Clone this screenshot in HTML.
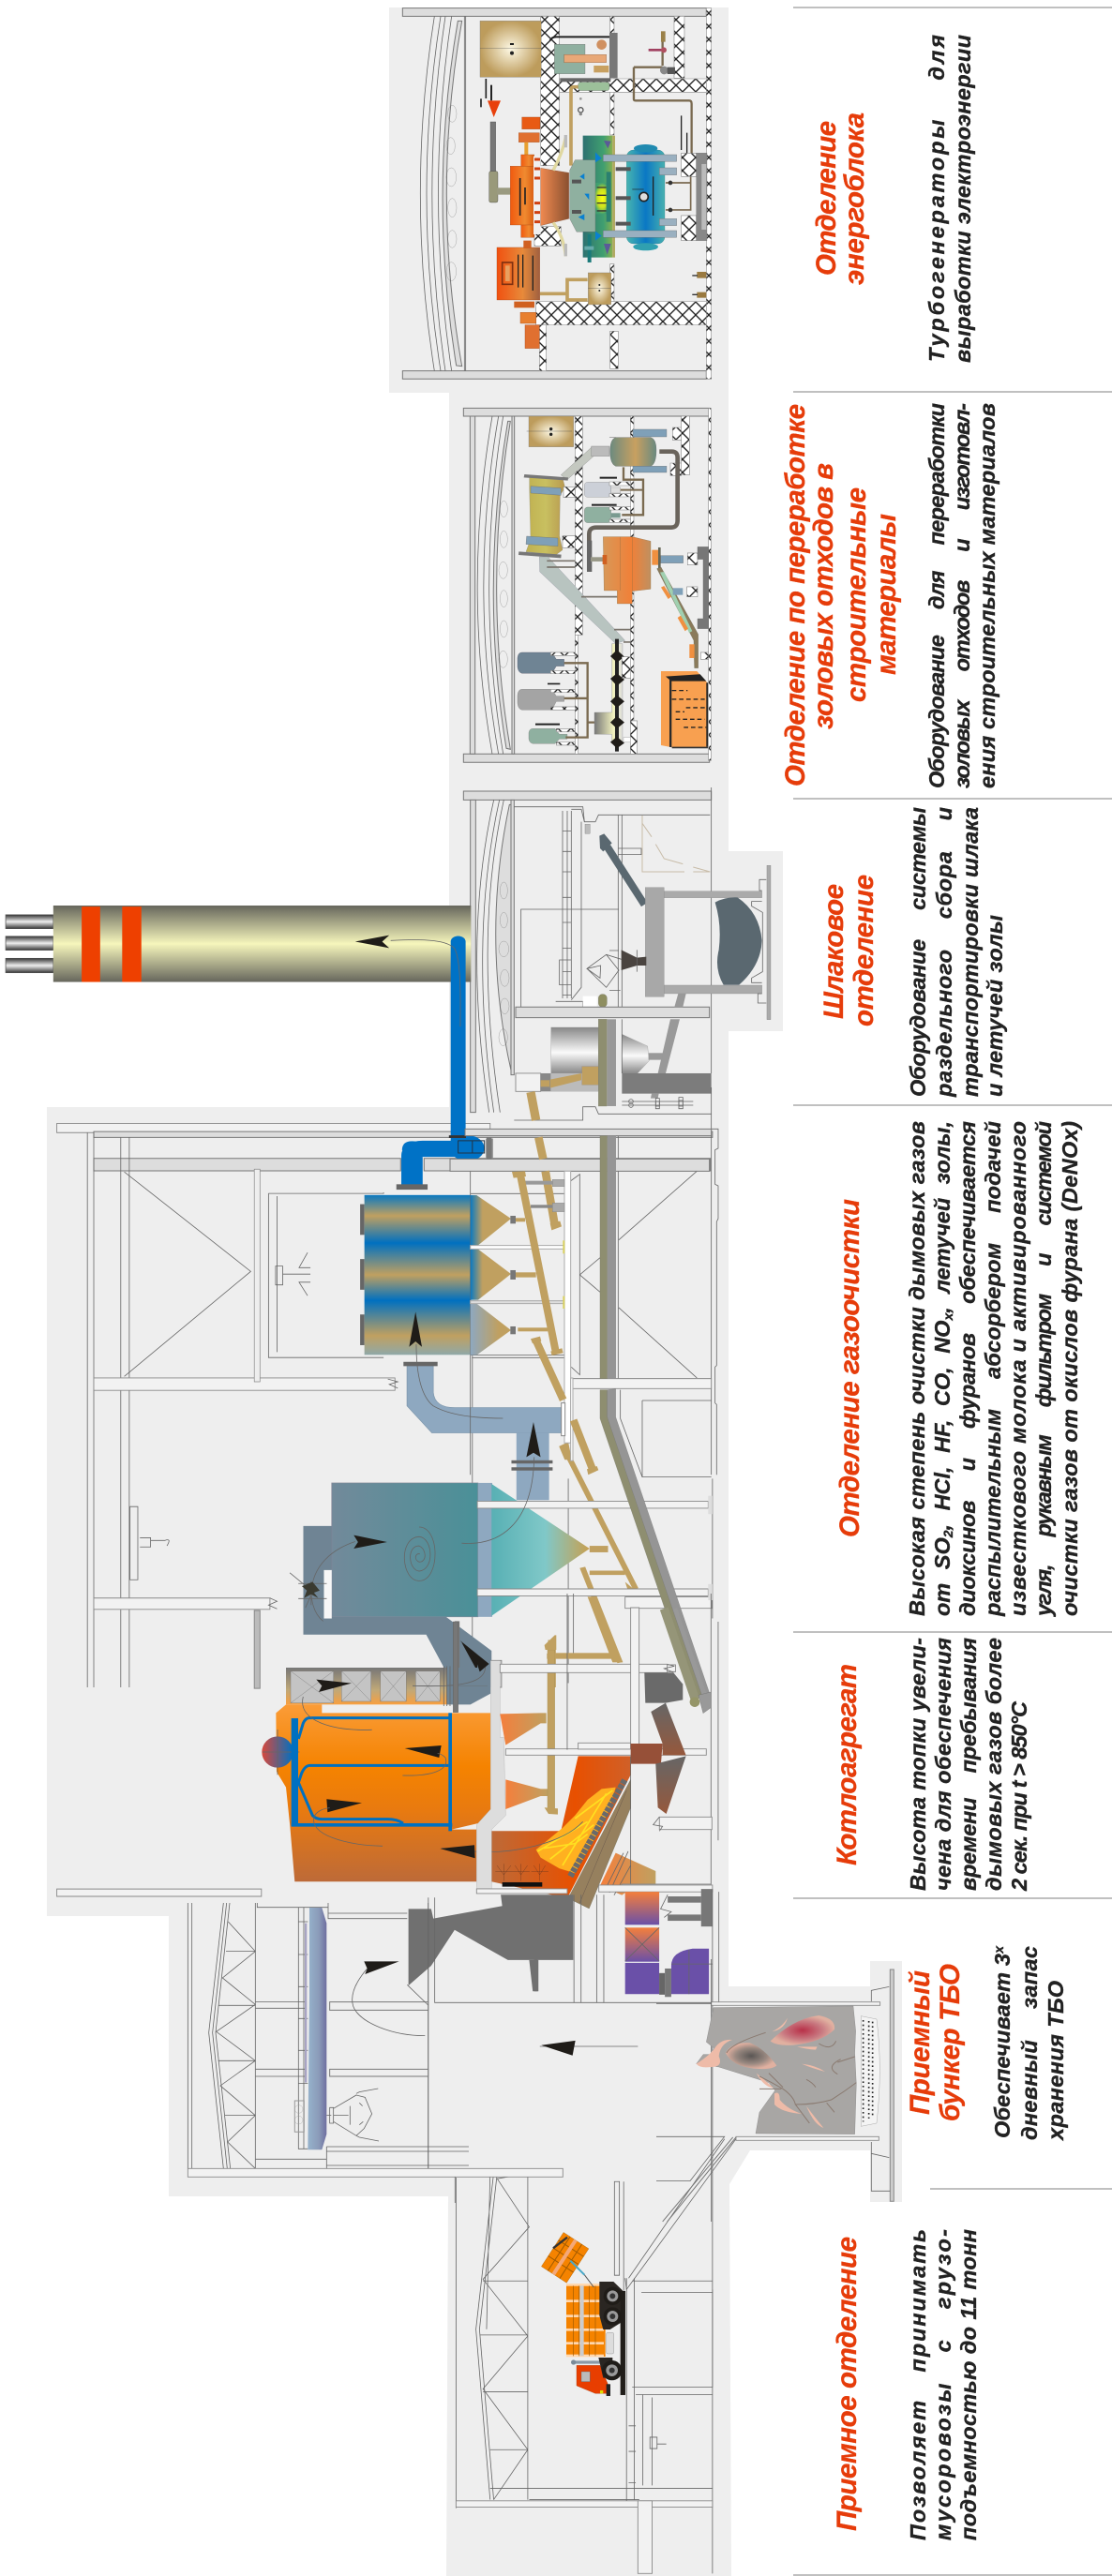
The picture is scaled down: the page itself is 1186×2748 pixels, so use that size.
<!DOCTYPE html>
<html lang="ru"><head><meta charset="utf-8"><title>Схема завода</title>
<style>
html,body{margin:0;padding:0;background:#fff;width:1186px;height:2748px;overflow:hidden}
svg{display:block;overflow:hidden}
.l{fill:none;stroke:#666;stroke-width:.8;vector-effect:non-scaling-stroke}
.r{fill:#eee;stroke:#777;stroke-width:1;vector-effect:non-scaling-stroke}
.rd{fill:#ddd;stroke:#777;stroke-width:1;vector-effect:non-scaling-stroke}
.w{fill:#f2f2f2;stroke:#888;stroke-width:.9;vector-effect:non-scaling-stroke}
.x{fill:url(#xh);stroke:#888;stroke-width:.6;vector-effect:non-scaling-stroke}
.h{fill:#e63c0a;stroke:#e63c0a;stroke-width:.3;font:italic bold 29.5px "Liberation Sans","Noto Sans CJK SC",sans-serif}
.b{fill:#222;stroke:#222;stroke-width:.35;font:italic bold 23.5px "Liberation Sans","Noto Sans CJK SC",sans-serif}
.blk{fill:#1f1c18}
</style></head><body>
<svg xmlns="http://www.w3.org/2000/svg" width="1186" height="2748" viewBox="0 0 1186 2748">
<defs>
<pattern id="xh" width="42" height="42" patternUnits="userSpaceOnUse"><rect width="42" height="42" fill="#fff"/><path d="M0 0L42 42M42 0L0 42" stroke="#222" stroke-width="4"/></pattern>
<linearGradient id="stack" x1="0" y1="0" x2="0" y2="1"><stop offset="0" stop-color="#66665c"/><stop offset=".5" stop-color="#f6f6bc"/><stop offset="1" stop-color="#66665c"/></linearGradient>
<linearGradient id="flue" x1="0" y1="0" x2="0" y2="1"><stop offset="0" stop-color="#333"/><stop offset=".5" stop-color="#eee"/><stop offset="1" stop-color="#333"/></linearGradient>
<linearGradient id="bag" x1="0" y1="0" x2="0" y2="1"><stop offset="0" stop-color="#0a78c0"/><stop offset=".13" stop-color="#c0a060"/><stop offset=".3" stop-color="#0070c0"/><stop offset=".5" stop-color="#c0a060"/><stop offset=".66" stop-color="#0070c0"/><stop offset=".88" stop-color="#c0a060"/><stop offset="1" stop-color="#8fa8a8"/></linearGradient>
<linearGradient id="hop" x1="0" y1="0" x2="1" y2="0"><stop offset="0" stop-color="#0a78c0"/><stop offset=".3" stop-color="#c0a060"/><stop offset="1" stop-color="#c0a060"/></linearGradient>
<linearGradient id="hop3" x1="0" y1="0" x2="1" y2="0"><stop offset="0" stop-color="#8ea8c0"/><stop offset=".7" stop-color="#c0a060"/><stop offset="1" stop-color="#c0a060"/></linearGradient>
<linearGradient id="react" x1="0" y1="0" x2="1" y2="0"><stop offset="0" stop-color="#728a9a"/><stop offset="1" stop-color="#4a9098"/></linearGradient>
<linearGradient id="cone" x1="0" y1="0" x2="1" y2="0"><stop offset="0" stop-color="#58b0b4"/><stop offset=".55" stop-color="#80c8c8"/><stop offset="1" stop-color="#c8a050"/></linearGradient>
<linearGradient id="boil" x1="0" y1="0" x2="0" y2="1"><stop offset="0" stop-color="#fa9c38"/><stop offset=".35" stop-color="#f58300"/><stop offset=".6" stop-color="#e87a10"/><stop offset="1" stop-color="#bd6a38"/></linearGradient>
<linearGradient id="conv" x1="0" y1="0" x2="0" y2="1"><stop offset="0" stop-color="#777"/><stop offset=".6" stop-color="#c0a878"/><stop offset="1" stop-color="#f8a040"/></linearGradient>
<linearGradient id="furn" x1="0" y1="0" x2="1" y2="0"><stop offset="0" stop-color="#bd6a38"/><stop offset=".6" stop-color="#e85000"/><stop offset="1" stop-color="#d06028"/></linearGradient>
<linearGradient id="drum" x1="0" y1="0" x2="1" y2="0"><stop offset="0" stop-color="#d8483c"/><stop offset="1" stop-color="#0070c0"/></linearGradient>
<linearGradient id="hop2" x1="0" y1="0" x2="1" y2="0"><stop offset="0" stop-color="#f47f3c"/><stop offset="1" stop-color="#c0a060"/></linearGradient>
<linearGradient id="pur" x1="0" y1="0" x2="0" y2="1"><stop offset="0" stop-color="#f47f3c"/><stop offset="1" stop-color="#6a50a8"/></linearGradient>
<linearGradient id="crane" x1="0" y1="0" x2="1" y2="0"><stop offset="0" stop-color="#96b2cc"/><stop offset=".6" stop-color="#8a9ab8"/><stop offset="1" stop-color="#6e6ea0"/></linearGradient>
<linearGradient id="chute" x1="0" y1="0" x2="0" y2="1"><stop offset="0" stop-color="#666"/><stop offset="1" stop-color="#96583c"/></linearGradient>
<linearGradient id="silo" x1="0" y1="0" x2="0" y2="1"><stop offset="0" stop-color="#888"/><stop offset=".55" stop-color="#fafafa"/><stop offset="1" stop-color="#888"/></linearGradient>
<radialGradient id="tank"><stop offset="0" stop-color="#fdf8e4"/><stop offset="1" stop-color="#bd9c5c"/></radialGradient>
<linearGradient id="cop" x1="0" y1="0" x2="1" y2="0"><stop offset="0" stop-color="#f08a50"/><stop offset="1" stop-color="#8a5030"/></linearGradient>
<linearGradient id="org" x1="0" y1="0" x2="1" y2="0"><stop offset="0" stop-color="#f05a10"/><stop offset=".6" stop-color="#f08a30"/><stop offset="1" stop-color="#d85a10"/></linearGradient>
<linearGradient id="org2" x1="0" y1="0" x2="1" y2="0"><stop offset="0" stop-color="#f05010"/><stop offset=".6" stop-color="#e88a3a"/><stop offset="1" stop-color="#a06040"/></linearGradient>
<linearGradient id="tealbg" x1="0" y1="0" x2="1" y2="0"><stop offset="0" stop-color="#2d7070"/><stop offset=".7" stop-color="#40a070"/><stop offset="1" stop-color="#88b050"/></linearGradient>
<radialGradient id="yel"><stop offset="0" stop-color="#ffff10"/><stop offset=".6" stop-color="#c8e020"/><stop offset="1" stop-color="#40a070"/></radialGradient>
<linearGradient id="btank" x1="0" y1="0" x2="1" y2="0"><stop offset="0" stop-color="#48b4b0"/><stop offset=".5" stop-color="#0a78c4"/><stop offset="1" stop-color="#48b0b0"/></linearGradient>
<linearGradient id="kiln" x1="0" y1="0" x2="1" y2="0"><stop offset="0" stop-color="#c0b050"/><stop offset=".5" stop-color="#c8c060"/><stop offset="1" stop-color="#b89850"/></linearGradient>
<linearGradient id="mill" x1="0" y1="0" x2="1" y2="0"><stop offset="0" stop-color="#d89858"/><stop offset=".6" stop-color="#f08038"/><stop offset="1" stop-color="#c09060"/></linearGradient>
<linearGradient id="ves" x1="0" y1="0" x2="1" y2="0"><stop offset="0" stop-color="#6a8a80"/><stop offset=".55" stop-color="#c8a060"/><stop offset="1" stop-color="#6a8a80"/></linearGradient>
<linearGradient id="screw" x1="0" y1="0" x2="1" y2="0"><stop offset="0" stop-color="#777"/><stop offset=".7" stop-color="#f4f4c0"/><stop offset="1" stop-color="#ddd"/></linearGradient>
<radialGradient id="gr"><stop offset="0" stop-color="#b83048"/><stop offset=".6" stop-color="#c87880"/><stop offset="1" stop-color="#e0b0a0"/></radialGradient>
<radialGradient id="gg"><stop offset="0" stop-color="#5a5654"/><stop offset=".6" stop-color="#988880"/><stop offset="1" stop-color="#e0b0a0"/></radialGradient>
</defs>

<rect width="1186" height="2748" fill="#fff"/>
<polygon fill="#eee" points="415,8 777,8 777,908 835,908 835,1100 777,1100 777,2119 928,2119 928,2092 962,2092 962,2349 928,2349 928,2294 800,2294 778,2330 780,2748 476,2748 478,2343 180,2343 180,2044 50,2044 50,1181 479,1181 479,419 415,419"/>

<!-- ENERGY BLOCK -->
<g transform="translate(420,0) scale(.3333)">
<rect class="rd" x="28" y="26" width="972" height="26"/><rect class="rd" x="28" y="1187" width="972" height="26"/>
<path class="l" d="M130 52Q40 620 130 1187M150 52Q60 620 150 1187M165 52Q80 620 165 1187M185 52Q100 620 185 1187"/>
<path class="rd" d="M205 67L218 67Q120 620 218 1172L200 1170Q110 620 205 67Z"/>
<path class="l" d="M226 52V1187M230 52V1187"/>
<g class="l"><ellipse cx="187" cy="364" rx="14" ry="27"/><ellipse cx="182" cy="467" rx="14" ry="27"/><ellipse cx="184" cy="567" rx="16" ry="30"/><ellipse cx="187" cy="665" rx="14" ry="30"/><ellipse cx="187" cy="765" rx="14" ry="28"/><ellipse cx="184" cy="869" rx="16" ry="30"/></g>
<rect class="x" x="470" y="52" width="60" height="478"/><rect class="x" x="450" y="725" width="85" height="62"/>
<rect class="x" x="692" y="52" width="13" height="380"/><rect class="x" x="692" y="845" width="13" height="120"/><rect class="x" x="692" y="1060" width="26" height="120"/>
<rect class="x" x="897" y="52" width="33" height="198"/><rect class="x" x="530" y="252" width="470" height="43"/><rect class="x" x="455" y="965" width="545" height="75"/>
<rect class="x" x="466" y="1040" width="22" height="147"/><rect class="x" x="1000" y="26" width="16" height="1187"/>
<rect x="276" y="67" width="196" height="180" fill="url(#tank)" stroke="#777"/><path d="M276 154H472" stroke="#555" fill="none"/><circle cx="378" cy="170" r="6" fill="#222"/><rect x="372" y="138" width="12" height="6" fill="#222"/>
<rect x="514" y="142" width="98" height="94" fill="#8fb0a0" stroke="#666"/><rect x="545" y="175" width="135" height="25" fill="#e8a878" stroke="#805030"/><rect x="640" y="210" width="48" height="22" fill="#c8a060"/><circle cx="665" cy="143" r="16" fill="#d09060"/>
<rect x="690" y="105" width="26" height="145" fill="#777"/><path d="M500 130Q505 118 520 118H690" stroke="#222" stroke-width="6" fill="none"/>
<rect x="532" y="250" width="162" height="12" fill="#666"/><rect x="590" y="263" width="100" height="27" rx="8" fill="#9cc09a" stroke="#666"/>
<path d="M590 278H575Q567 278 567 290V530" stroke="#c0a060" stroke-width="11" fill="none"/>
<circle cx="598" cy="352" r="8" fill="none" stroke="#555" stroke-width="4"/><circle cx="598" cy="365" r="5" fill="#888"/><circle cx="598" cy="316" r="4" fill="#999"/>
<path d="M860 210V125M768 215H860M768 215V318Q768 322 775 322H945Q953 322 953 332V490" stroke="#7a6a50" stroke-width="7" fill="none"/>
<path d="M815 160H862" stroke="#a04060" stroke-width="8"/><circle cx="864" cy="160" r="9" fill="#b05060"/><rect x="855" y="100" width="14" height="34" fill="#9a8048"/><circle cx="865" cy="225" r="13" fill="#888"/><rect x="875" y="215" width="25" height="22" fill="#555"/>
<path d="M920 370V480M938 425V490" stroke="#222" stroke-width="4"/>
<path d="M295 252V315" stroke="#222" stroke-width="5"/><path d="M312 272V322" stroke="#222" stroke-width="6"/><path d="M279 316V343" stroke="#222" stroke-width="5"/>
<polygon points="300,322 342,322 320,375" fill="#e8400c"/>
<rect x="309" y="390" width="17" height="160" fill="#777" stroke="#444"/><rect x="305" y="548" width="28" height="100" rx="6" fill="#99997a" stroke="#333"/><path d="M330 612H375" stroke="#9a9a80" stroke-width="22"/>
<rect x="410" y="375" width="58" height="38" fill="#e85a14" stroke="#984010"/><rect x="400" y="425" width="66" height="30" fill="#e07030" stroke="#984010"/><rect x="418" y="455" width="12" height="45" fill="#e8a030"/>
<rect x="407" y="495" width="42" height="265" fill="url(#org)" stroke="#a04010"/><rect x="373" y="532" width="78" height="188" fill="url(#org)" stroke="#a04010"/>
<path d="M404 570V690M420 600V655" stroke="#222" stroke-width="5"/>
<rect x="447" y="500" width="23" height="250" fill="#f0f0f0"/><path d="M450 510H468M450 540H468M450 570H468M450 650H468M450 680H468M450 710H468" stroke="#d04010" stroke-width="9"/>
<polygon points="470,538 510,545 560,553 560,700 510,712 470,722" fill="url(#cop)" stroke="#804020"/>
<path d="M510 545Q540 490 550 440M510 712Q545 760 550 820" stroke="#e0d8a0" stroke-width="10" fill="none"/>
<rect x="545" y="432" width="10" height="40" fill="#bbb"/><rect x="545" y="780" width="10" height="40" fill="#bbb"/>
<rect x="605" y="434" width="95" height="390" fill="url(#tealbg)"/><rect x="700" y="434" width="8" height="390" fill="#b0a860"/>
<rect x="640" y="585" width="55" height="100" fill="url(#yel)"/><path d="M650 600H680M650 625H680M650 650H680M650 675H680" stroke="#333" stroke-width="4"/><rect x="680" y="550" width="15" height="160" fill="#2a8070"/>
<polygon points="563,545 580,512 645,512 645,742 585,742 563,700" fill="#8fb0a0" stroke="#666"/>
<g fill="#555"><rect x="570" y="575" width="30" height="12"/><rect x="570" y="672" width="30" height="12"/></g>
<g fill="#0a80d0"><polygon points="610,620 625,620 625,640"/><polygon points="645,487 665,507 645,520"/><polygon points="645,740 665,755 645,770"/><polygon points="590,695 610,685 610,705"/><polygon points="595,565 610,555 610,575"/></g>
<g fill="#5a5a98"><polygon points="672,450 695,452 685,475"/><polygon points="672,780 695,780 683,815"/></g>
<rect x="620" y="750" width="12" height="90" fill="#1a7a7a"/><rect x="610" y="788" width="30" height="12" fill="#6aa"/>
<rect x="745" y="480" width="122" height="300" rx="22" fill="url(#btank)" stroke="#2a7a8a"/><ellipse cx="806" cy="475" rx="38" ry="13" fill="#208ab0"/><ellipse cx="806" cy="790" rx="40" ry="12" fill="#30a0b0"/>
<circle cx="800" cy="630" r="14" fill="#ddd" stroke="#222" stroke-width="5"/><path d="M830 565V690" stroke="#222" stroke-width="4"/><path d="M763 606H800" stroke="#222" stroke-width="2"/>
<rect x="670" y="495" width="235" height="22" fill="#9ab0c0" stroke="#666"/><rect x="670" y="738" width="235" height="22" fill="#9ab0c0" stroke="#666"/><rect x="850" y="537" width="55" height="23" fill="#9ab0c0" stroke="#666"/><rect x="850" y="700" width="55" height="22" fill="#9ab0c0" stroke="#666"/>
<g fill="#555"><rect x="710" y="535" width="48" height="12"/><rect x="710" y="628" width="48" height="12"/><rect x="710" y="710" width="48" height="12"/></g>
<path d="M870 585H950V490M870 672H950V580" stroke="#7a6a50" stroke-width="5" fill="none"/><circle cx="885" cy="585" r="7" fill="#333"/><circle cx="885" cy="672" r="7" fill="#333"/>
<rect x="920" y="490" width="48" height="75" class="x"/><rect x="920" y="690" width="48" height="80" class="x"/>
<rect x="968" y="490" width="34" height="280" fill="#888" stroke="#666"/><rect x="985" y="525" width="15" height="210" fill="#bbb"/>
<rect x="330" y="792" width="137" height="168" fill="url(#org2)" stroke="#a04010"/><rect x="347" y="840" width="33" height="70" fill="none" stroke="#803010" stroke-width="5"/><rect x="357" y="850" width="14" height="50" fill="#e8a060"/>
<path d="M398 815V920M413 815V920M445 818V930" stroke="#222" stroke-width="4"/>
<rect x="415" y="770" width="25" height="25" fill="#d06020"/>
<rect x="622" y="873" width="73" height="102" fill="url(#tank)" stroke="#777"/><path d="M622 922H695" stroke="#444"/><circle cx="658" cy="912" r="3" fill="#222"/><circle cx="658" cy="930" r="3" fill="#222"/>
<path d="M468 940H555V895H620M555 895V960H620" stroke="#c0a060" stroke-width="11" fill="none"/>
<rect x="405" y="1000" width="50" height="35" fill="#e88030" stroke="#a04010"/><rect x="385" y="965" width="65" height="20" fill="#d06020"/><rect x="420" y="1040" width="46" height="75" fill="#e07030" stroke="#a04010"/>
<g fill="#9a7a40"><rect x="970" y="870" width="30" height="20"/><rect x="970" y="935" width="30" height="18"/></g><path d="M955 882H972M955 943H972" stroke="#333" stroke-width="4"/>
</g>

<!-- ASH PROCESSING -->
<g transform="translate(490,420) scale(.3333,.3333)">
<rect class="rd" x="13" y="46" width="787" height="26"/><rect class="rd" x="13" y="1153" width="787" height="27"/>
<rect class="rd" x="34" y="72" width="16" height="1081"/>
<path class="l" d="M105 72Q10 620 105 1153M125 72Q30 620 125 1153M140 72Q50 620 140 1153"/>
<path class="rd" d="M155 88L163 88Q75 620 163 1138L150 1135Q65 620 155 88Z"/>
<rect class="rd" x="168" y="72" width="8" height="1081"/>
<g class="l"><ellipse cx="142" cy="369" rx="12" ry="26"/><ellipse cx="142" cy="466" rx="12" ry="27"/><ellipse cx="140" cy="565" rx="14" ry="27"/><ellipse cx="142" cy="656" rx="12" ry="27"/><ellipse cx="142" cy="753" rx="12" ry="27"/><ellipse cx="140" cy="850" rx="14" ry="27"/></g>
<rect class="x" x="370" y="72" width="24" height="700"/><rect class="x" x="370" y="772" width="10" height="381"/><rect class="x" x="547" y="72" width="11" height="975"/><rect class="x" x="547" y="1047" width="22" height="106"/>
<rect class="x" x="710" y="72" width="26" height="188"/><rect class="x" x="797" y="46" width="8" height="1128"/>
<rect x="222" y="72" width="143" height="98" fill="url(#tank)" stroke="#777"/><path d="M215 120H360" stroke="#444"/><circle cx="293" cy="113" r="5" fill="#222"/><circle cx="293" cy="130" r="5" fill="#222"/>
<polygon points="325,260 422,172 435,195 345,275" fill="#c4c8c0" stroke="#777"/>
<rect x="422" y="168" width="58" height="32" fill="#bbb" stroke="#777"/>
<path d="M480 140H612Q630 145 630 180Q630 225 612 232H500Q482 225 482 185Q482 145 500 140Z" fill="url(#ves)" stroke="#666"/>
<rect x="555" y="114" width="108" height="24" fill="#7fa0b8" stroke="#666"/><rect x="555" y="232" width="108" height="20" fill="#7fa0b8" stroke="#666"/>
<rect class="x" x="682" y="108" width="28" height="40"/><rect class="x" x="675" y="222" width="35" height="40"/>
<path d="M640 185H680Q698 185 698 205V405Q698 428 678 428H438Q415 428 415 450V565" stroke="#6a645c" stroke-width="14" fill="none"/>
<path d="M525 235V275H588V388H520" stroke="#7a6a50" stroke-width="7" fill="none"/>
<rect x="449" y="266" width="55" height="6" fill="#222"/><rect x="423" y="353" width="80" height="6" fill="#222"/>
<rect x="400" y="283" width="85" height="48" rx="10" fill="#ccd0d8" stroke="#888"/><rect x="485" y="300" width="30" height="18" fill="#ddd" stroke="#888"/><rect x="400" y="363" width="85" height="50" rx="10" fill="#8fb0a0" stroke="#777"/><rect x="485" y="382" width="30" height="15" fill="#7a9a90"/>
<path d="M515 308H585" stroke="#7a6a50" stroke-width="6"/>
<g><rect class="x" x="480" y="282" width="68" height="12"/><rect class="x" x="480" y="320" width="68" height="10"/><rect class="x" x="480" y="362" width="68" height="10"/><rect class="x" x="480" y="402" width="68" height="10"/></g>
<polygon points="224,268 330,270 338,300 322,325 320,455 330,500 310,515 213,506 228,465 224,300" fill="url(#kiln)" stroke="#887" />
<polygon points="208,258 348,268 347,278 206,268" fill="#777"/><polygon points="190,505 326,515 325,526 189,516" fill="#777"/>
<polygon points="228,296 325,302 325,325 228,318" fill="#7fa0b8" stroke="#666"/><polygon points="215,456 315,462 315,488 213,482" fill="#7fa0b8" stroke="#666"/>
<rect class="x" x="333" y="298" width="37" height="34"/><rect class="x" x="330" y="455" width="40" height="38"/>
<polygon points="256,522 283,522 530,790 500,800 257,570" fill="#b8c4c0" stroke="#889"/>
<path d="M280 535H370M280 555H370M390 650H505M495 755H547M525 795H547" stroke="#7a746c" stroke-width="5" fill="none"/>
<path d="M460 458H553L612 472 612 625 553 632 553 672 505 672 505 630 463 630Z" fill="url(#mill)" stroke="#8a6a40"/>
<path d="M515 458V630M553 458V632" stroke="#8a6a40" fill="none"/>
<rect x="408" y="470" width="16" height="100" fill="#666"/><path d="M420 530H460" stroke="#998" stroke-width="14"/><rect x="458" y="516" width="14" height="30" fill="#d06020"/>
<rect x="616" y="500" width="20" height="48" fill="#f09040"/><rect x="636" y="492" width="8" height="68" fill="#665"/><rect x="644" y="518" width="72" height="24" fill="#7fa0b8" stroke="#666"/><rect class="x" x="730" y="510" width="32" height="38"/>
<polygon points="632,560 645,555 764,770 764,878 752,878 750,790" fill="#8a7a5a" stroke="#665"/><polygon points="642,572 655,570 745,760 735,765" fill="#a0d0b0"/>
<polygon points="645,620 655,615 678,650 668,657" fill="#f09040"/><polygon points="698,717 708,710 732,752 722,760" fill="#f09040"/><rect x="736" y="802" width="16" height="44" fill="#f09040"/>
<rect x="683" y="622" width="32" height="22" fill="#7fa0b8"/><rect class="x" x="728" y="618" width="34" height="32"/><rect class="x" x="772" y="828" width="25" height="22"/>
<path d="M762 490H797V752H762V720H780V530H762Z" fill="#777" stroke="#666"/>
<path d="M186 845Q188 828 200 828H296L310 850H335V872H310L296 895H200Q188 892 186 875Z" fill="#6f8494" stroke="#556"/>
<path d="M186 965Q188 946 200 946H296L310 968H335V985H310L296 1012H200Q188 1010 186 990Z" fill="#a4a4a4" stroke="#777"/>
<path d="M222 1085Q224 1072 235 1072H306L320 1090H345V1105H320L306 1120H235Q224 1118 222 1105Z" fill="#8fb0a0" stroke="#777"/>
<rect x="282" y="926" width="40" height="5" fill="#222"/><rect x="243" y="1055" width="78" height="6" fill="#222"/>
<g><rect class="x" x="292" y="828" width="78" height="10"/><rect class="x" x="292" y="886" width="78" height="10"/><rect class="x" x="292" y="946" width="78" height="10"/><rect class="x" x="292" y="1002" width="78" height="10"/><rect class="x" x="310" y="1072" width="60" height="10"/><rect class="x" x="310" y="1115" width="60" height="10"/></g>
<path d="M335 862H410V1100H340M335 975H410M410 1052H432" stroke="#7a6a50" stroke-width="7" fill="none"/>
<path d="M432 1020H488V800H522V1120H488V1090H432Z" fill="url(#screw)" stroke="#888"/>
<path d="M504 785V1145" stroke="#222" stroke-width="12"/>
<g class="blk"><polygon points="483,840 504,820 528,842 504,860"/><polygon points="483,912 504,895 528,915 504,935"/><polygon points="483,985 504,965 528,985 504,1005"/><polygon points="483,1052 504,1032 528,1052 504,1072"/><polygon points="483,1115 504,1098 528,1118 504,1135"/></g>
<rect class="x" x="520" y="842" width="28" height="68"/><rect x="525" y="1100" width="22" height="15" fill="#fff" stroke="#888"/>
<polygon points="645,888 760,888 793,925 793,1132 680,1132 645,1125" fill="#f8a050"/>
<polygon points="660,905 770,898 790,920 678,920" fill="#222"/><rect x="672" y="915" width="7" height="216" fill="#2a2a2a"/><rect x="790" y="925" width="5" height="205" fill="#222"/><rect x="680" y="1130" width="115" height="5" fill="#333"/>
<path d="M680 950H730M680 978H785M725 1005H785M692 1018H720M692 1042H785M718 1068H790" stroke="#222" stroke-width="4" stroke-dasharray="14 9" fill="none"/>
</g>

<!-- SLAG SECTION -->
<g transform="translate(480,840) scale(.3333)">
<rect class="rd" x="43" y="12" width="793" height="28"/>
<rect class="rd" x="65" y="40" width="17" height="1000"/><rect class="rd" x="195" y="40" width="10" height="880"/>
<path class="l" d="M140 40Q40 480 125 1040M158 40Q60 480 140 1040M172 40Q75 480 160 1040"/>
<path class="rd" d="M190 55Q100 480 195 905V55Z"/>
<g class="l"><ellipse cx="172" cy="330" rx="12" ry="27"/><ellipse cx="172" cy="425" rx="12" ry="25"/><ellipse cx="172" cy="517" rx="16" ry="25"/><ellipse cx="175" cy="610" rx="14" ry="27"/><ellipse cx="175" cy="700" rx="14" ry="25"/><ellipse cx="170" cy="800" rx="14" ry="27"/></g>
<path class="l" d="M205 62H425L430 110H465L475 88H832M836 0V915M360 75V675M375 75V675M388 75V675M360 140H388M360 205H388M360 270H388M360 352H388M360 432H388M360 515H388M360 590H388M360 665H388M538 88V703M550 88V703M538 195H612V215H538M227 703V390H540M350 552H388V632H350Z"/>
<path class="l" d="M388 70H420L430 110M420 110V640L388 680M338 685H425V703"/>
<path d="M615 90V270H745M615 115L645 158M658 182L685 228 745 245M700 270H750M778 255L832 270M778 270H832" stroke="#c8bca8" stroke-width="1" fill="none" vector-effect="non-scaling-stroke"/>
<path d="M503 190L622 375" stroke="#5a6870" stroke-width="24"/>
<polygon points="478,155 493,148 518,178 490,205 480,195" fill="#5a6870"/>
<rect x="432" y="118" width="16" height="30" fill="#bbb" stroke="#777"/>
<rect x="625" y="320" width="60" height="350" fill="#a8a8a8" stroke="#888"/>
<rect x="685" y="332" width="313" height="21" fill="#aaa" stroke="#888"/><rect x="685" y="633" width="313" height="27" fill="#aaa" stroke="#888"/>
<path d="M848 368Q880 350 920 352Q990 400 998 490Q995 570 925 632H875Q845 580 860 520Q870 440 848 368Z" fill="#5a6870"/>
<rect x="1014" y="250" width="12" height="493" fill="#aaa" stroke="#777"/>
<path class="l" d="M1012 295H990V330H998M998 365H965V380L1000 400V590L965 610V625H998M998 660H985V690H1012"/>
<polygon points="548,520 598,545 628,542 628,570 598,570 548,585" fill="#4a4440"/><path class="l" d="M598 520V590"/>
<path class="l" d="M548 550L500 535 438 580 500 640 540 585 500 535M438 580L480 610 482 570ZM510 522H540M510 650H545"/>
<rect x="425" y="668" width="45" height="35" fill="#fff"/><rect x="475" y="662" width="27" height="41" rx="12" fill="#8e8e60" stroke="#665"/>
<rect class="rd" x="210" y="703" width="620" height="34"/>
<polygon points="730,660 755,660 745,703 718,703" fill="#999"/><polygon points="705,742 735,742 690,915 665,915" fill="#999"/>
<rect x="323" y="768" width="152" height="147" fill="url(#silo)" stroke="#999"/>
<polygon points="550,790 632,828 637,875 600,915 550,915" fill="url(#silo)" stroke="#999"/><rect x="635" y="850" width="45" height="22" fill="#999"/>
<rect x="550" y="915" width="286" height="65" fill="#7c7c7c"/><polygon points="645,980 668,980 665,995 642,995" fill="#999"/>
<rect class="w" x="210" y="915" width="80" height="58"/><rect x="290" y="915" width="185" height="58" fill="#888"/><rect x="322" y="915" width="153" height="58" fill="#bbb"/>
<polygon points="320,935 420,915 420,937 320,962" fill="#c0a060"/><rect x="422" y="893" width="53" height="59" fill="#c0a060" stroke="#987"/><rect x="290" y="937" width="28" height="21" fill="#c0a060"/>
<rect x="475" y="742" width="27" height="278" fill="#8e8e70" stroke="#776"/><rect x="503" y="742" width="28" height="278" fill="#999"/><path class="l" d="M550 742V915"/>
<path class="l" d="M550 1005H778M572 1005a6 6 0 1 0 14 0a6 6 0 1 0 -14 0M658 995H670V1020H658ZM732 992H745V1020H732Z"/>
</g>

<!-- STACK + BLUE DUCT + BUILDING (z2 coords) -->
<g transform="translate(0,900) scale(.7576,.574)">
<rect class="w" x="80" y="520" width="610" height="17"/>
<rect class="rd" x="132" y="535" width="871" height="11"/>
<rect class="rd" x="132" y="585" width="432" height="23"/><rect class="rd" x="597" y="585" width="403" height="23"/>
<path class="l" d="M1003 1180V1440M123 537V1568M132 537V1568M170 546V1568M182 546V1568"/>
<rect class="w" x="132" y="993" width="424" height="23"/><path class="l" d="M546 995L560 1000 548 1005 560 1012"/>
<rect class="w" x="132" y="1402" width="248" height="21"/><path class="l" d="M380 1402L390 1408 378 1415 390 1422"/>
<rect class="w" x="880" y="1400" width="122" height="21"/>
<rect x="358" y="605" width="8" height="395" fill="#eee" stroke="#888" stroke-width=".7" vector-effect="non-scaling-stroke"/><rect x="358" y="1425" width="8" height="145" fill="#bbb" stroke="#888" vector-effect="non-scaling-stroke"/>
<path class="l" d="M175 610L353 795 175 990M378 650H540V648M378 650V955H540M390 655V945M665 950V1568M800 1180V1560"/>
<path class="l" d="M388 785H398V820H388ZM398 800H437M433 760L421 788 437 788M433 840L421 815 437 815"/>
<path class="l" d="M183 1232V1368H194V1232ZM197 1290H212V1307H197M212 1295H232Q242 1290 235 1305"/>
<!-- stack -->
<rect x="8" y="132" width="67" height="26" fill="url(#flue)" stroke="#555"/><rect x="8" y="172" width="67" height="26" fill="url(#flue)" stroke="#555"/><rect x="8" y="213" width="67" height="27" fill="url(#flue)" stroke="#555"/>
<rect x="75" y="115" width="588" height="142" fill="url(#stack)"/>
<rect x="115" y="117" width="26" height="140" fill="#ee4000"/><rect x="172" y="117" width="27" height="140" fill="#ee4000"/>
<!-- blue duct -->
<path d="M645 560V182" stroke="#0072c6" stroke-width="21" stroke-linecap="round"/>
<path d="M655 567H595Q580 567 580 580V640" stroke="#0072c6" stroke-width="30" fill="none"/><path d="M566 570Q566 553 580 553Q596 553 596 570Z" fill="#0072c6"/>
<circle cx="658" cy="566" r="24" fill="#0072c6"/><path d="M645 552H665V575H645ZM665 552H682V575H665Z" fill="none" stroke="#234" vector-effect="non-scaling-stroke"/><rect x="632" y="542" width="24" height="5" fill="#333"/><rect x="684" y="548" width="10" height="36" fill="#888"/>
<rect x="558" y="633" width="44" height="10" fill="#666"/>
<path class="l" d="M550 180C600 176 630 180 640 195 650 220 648 300 648 340"/>
<polygon class="blk" points="500,182 548,170 538,182 548,194"/>
<!-- bag filter -->
<rect x="507" y="670" width="6" height="57" fill="#666"/><rect x="507" y="772" width="6" height="57" fill="#666"/><rect x="507" y="875" width="6" height="57" fill="#666"/>
<rect x="513" y="653" width="150" height="297" fill="url(#bag)"/>
<polygon class="blk" points="585,870 594,935 585,925 576,935"/>
<!-- conveyors bottom part -->
<g stroke="#c0a060" stroke-width="8" fill="none"><path d="M795 1125L895 1385"/><path d="M820 1345L873 1522"/><path d="M830 1355H880"/><path d="M770 1510H870" stroke-width="10"/><path d="M777 1480V1568" stroke-width="11"/></g>
<g fill="#c0a060"><polygon points="787,1120 800,1112 805,1145 795,1145"/><polygon points="880,1372 898,1392 885,1392"/></g>
<!-- gas duct -->
<path d="M573 968H610V1020Q612 1048 640 1048H795V1095H608L573 1045Z" fill="#8ea8c0" stroke="#7f98ad"/>
<path class="l" d="M586 930Q586 1020 610 1045 640 1068 708 1068"/>
<rect x="568" y="963" width="48" height="8" fill="#666"/>
<rect x="727" y="1095" width="46" height="125" fill="#8ea8c0"/>
<rect x="720" y="1146" width="58" height="6" fill="#666"/><rect x="720" y="1159" width="58" height="6" fill="#666"/>
<polygon class="blk" points="751,1075 761,1140 751,1132 741,1140"/>
<rect x="467" y="1188" width="206" height="249" fill="url(#react)" stroke="#889"/>
<rect x="673" y="1188" width="20" height="249" fill="#8ea8c0"/>
<polygon points="692,1190 830,1310 692,1435" fill="url(#cone)"/>
<rect x="830" y="1305" width="26" height="12" fill="#c0a060"/>
<rect class="w" x="672" y="1222" width="325" height="13"/><rect class="w" x="672" y="1385" width="325" height="13"/>
<rect x="997" y="1212" width="6" height="34" fill="#ddd"/><rect x="997" y="1376" width="6" height="30" fill="#ddd"/>
<path class="l" d="M590 1270C620 1270 620 1370 590 1370 565 1370 560 1290 590 1288 610 1290 612 1350 590 1352 575 1350 572 1305 590 1305 600 1310 602 1335 590 1335 582 1330 585 1318 591 1320"/>
<path class="l" d="M650 1300C700 1305 750 1270 752 1140"/>
<path d="M427 1268H467V1437H427ZM427 1437H628L692 1500V1568H640L600 1470H427Z" fill="#6f8494"/>
<rect x="456" y="1350" width="11" height="90" fill="#f7f7f7"/>
<path class="l" d="M408 1355L440 1390 430 1420M420 1375H460M420 1403H460M438 1370V1415M455 1445C430 1420 425 1330 500 1297"/>
<polygon points="440,1372 450,1388 442,1392 448,1402 438,1395 428,1402 432,1388 425,1380" fill="#3a3a30"/>
<polygon class="blk" points="545,1298 498,1285 504,1298 498,1310"/>
<rect x="640" y="1445" width="7" height="123" fill="#777"/>
<rect x="692" y="1518" width="14" height="50" fill="#ddd" stroke="#888" vector-effect="non-scaling-stroke"/>
<rect class="w" x="706" y="1526" width="245" height="13"/>
<polygon class="blk" points="650,1485 688,1525 672,1518 672,1538"/>
</g>

<!-- GAS CLEANING DETAIL -->
<g transform="translate(480,1160) scale(.3333)">
<path class="l" d="M836 0V1240M836 133H858V195L848 200V310L858 315V420L853 430V890L848 895V1010L853 1015V1240M538 155V932M540 488L790 268M540 705L790 930M415 600L480 545M415 600L480 655M385 300L415 278V920L388 895M65 268V1240M545 968V1060L615 1247M615 1002H836M615 1002V1247H836M65 340H370M70 865H365M65 857H365"/>
<path class="l" d="M205 105H425V62H465L475 85H836M550 57H778M572 57a6 6 0 1 0 14 0a6 6 0 1 0 -14 0M658 45H670V68H658ZM732 42H745V68H732Z"/>
<path d="M258 15L275 105" stroke="#c0a060" stroke-width="28"/>
<rect class="rd" x="48" y="133" width="788" height="22"/>
<rect class="rd" x="0" y="229" width="830" height="39"/>
<rect class="w" x="393" y="932" width="443" height="32"/>
<rect x="366" y="268" width="20" height="870" fill="#fff" stroke="#aaa" vector-effect="non-scaling-stroke"/>
<rect x="386" y="930" width="7" height="265" fill="#fff" stroke="#aaa" vector-effect="non-scaling-stroke"/>
<rect x="480" y="155" width="23" height="777" fill="#8e8e70" stroke="#776"/><rect x="503" y="155" width="28" height="777" fill="#959595"/>
<polygon points="480,968 503,968 503,1055 807,1950 783,1950 480,1060" fill="#8e8e70" stroke="#776"/>
<polygon points="503,968 530,965 530,1055 834,1950 807,1950 503,1055" fill="#959595" stroke="#777"/>
<path d="M283 160L298 229M305 268L335 440" stroke="#c0a060" stroke-width="26" fill="none"/>
<polygon points="320,435 352,428 357,445 325,457" fill="#c0a060"/>
<rect x="240" y="299" width="90" height="12" fill="#999"/><rect x="258" y="376" width="72" height="10" fill="#888"/>
<rect x="328" y="295" width="38" height="22" fill="#aaa" stroke="#777"/><rect x="328" y="370" width="38" height="28" fill="#aaa" stroke="#777"/>
<polygon points="65,345 85,345 195,420 90,505 65,505" fill="url(#hop)"/>
<polygon points="65,518 90,518 195,597 90,680 65,680" fill="url(#hop)"/>
<polygon points="65,692 85,692 195,777 85,857 65,857" fill="url(#hop3)"/>
<rect x="193" y="411" width="17" height="25" fill="#777"/><rect x="193" y="585" width="17" height="30" fill="#777"/><rect x="193" y="765" width="17" height="25" fill="#777"/>
<rect x="210" y="418" width="30" height="12" fill="#c0a060"/><rect x="210" y="592" width="65" height="16" fill="#c0a060"/><rect x="217" y="769" width="96" height="12" fill="#c0a060"/>
<rect x="65" y="506" width="300" height="11" fill="#fff" stroke="#aaa" vector-effect="non-scaling-stroke"/><rect x="65" y="683" width="300" height="9" fill="#ddd" stroke="#aaa" vector-effect="non-scaling-stroke"/>
<rect x="361" y="490" width="6" height="42" fill="#d8d060"/><rect x="361" y="668" width="6" height="40" fill="#d8d060"/>
<path d="M226 285L338 845" stroke="#c0a060" stroke-width="24"/>
<polygon points="198,270 240,268 243,285 203,290" fill="#c0a060"/><polygon points="322,845 358,835 362,850 326,858" fill="#c0a060"/>
<path d="M275 810L362 1000M395 1065L455 1220" stroke="#c0a060" stroke-width="24"/>
<polygon points="258,805 288,797 292,812 264,820" fill="#c0a060"/><polygon points="438,1222 470,1212 475,1225 442,1240" fill="#c0a060"/>
<rect x="356" y="1010" width="12" height="105" fill="#fff" stroke="#888" vector-effect="non-scaling-stroke"/>
<rect x="117" y="160" width="16" height="70" fill="#777"/>
</g>

<!-- BOILER -->
<g transform="translate(280,1700) scale(.3333)">
<rect x="75" y="237" width="525" height="118" fill="url(#conv)"/>
<polygon points="590,237 730,237 730,320 665,355 590,355" fill="#6f8494"/>
<g fill="#c4c4c4" stroke="#666"><rect x="90" y="248" width="137" height="102"/><rect x="253" y="248" width="94" height="97"/><rect x="377" y="248" width="83" height="97"/><rect x="490" y="248" width="78" height="97"/></g>
<path d="M90 248L227 350M227 248L90 350M253 248L347 345M347 248L253 345M377 248L460 345M460 248L377 345M490 248L568 345M568 248L490 345M490 295H720" stroke="#666" fill="none"/>
<path class="l" d="M580 232V360M590 232V360M600 232V360M480 295C620 300 720 290 712 230"/>
<polygon points="43,382 75,355 190,355 190,382 730,382 730,705 690,735 605,755 685,755 685,922 103,922 88,745 75,620 45,570" fill="url(#boil)"/>
<rect x="610" y="90" width="16" height="290" fill="#777" stroke="#555"/>
<polygon class="blk" points="172,275 285,287 180,315 190,295"/>
<polygon class="blk" points="632,150 725,225 695,250 680,205"/>
<circle cx="48" cy="507" r="50" fill="url(#drum)"/><path class="l" d="M0 507H118M48 435V580"/>
<g fill="none" stroke="#0070c0" stroke-width="9"><path d="M600 398H150Q138 398 130 415L115 465"/><path d="M595 550H150Q135 552 125 575L115 605 160 710Q170 722 190 722H400Q430 722 450 735"/></g>
<g fill="#0070c0"><rect x="92" y="399" width="22" height="345"/><rect x="92" y="735" width="515" height="11"/><rect x="595" y="382" width="11" height="378"/></g>
<polygon class="blk" points="455,495 572,486 565,525"/><polygon class="blk" points="205,658 318,670 208,700"/>
<path class="l" d="M350 436C230 440 110 410 130 330M448 582C540 585 600 565 585 525 575 515 565 512 560 512M384 808C260 805 150 770 165 715 170 700 190 688 215 686"/>
<!-- furnace -->
<polygon points="733,760 955,760 1010,520 1178,520 1178,580 975,975 733,922" fill="url(#furn)"/>
<polygon points="875,820 960,750 1000,710 1040,660 1085,625 1130,620 1110,690 1060,790 1000,895 950,880 890,845" fill="#ffb020"/>
<path d="M880 825L1040 730M920 850L1060 740M960 870L1100 640M1000 720L1120 630M900 815L1000 800 1040 770" stroke="#ffe020" stroke-width="5" fill="none"/>
<path d="M985 905L1160 595" stroke="#6a6a6a" stroke-width="20" stroke-dasharray="14 3"/>
<polygon points="1178,595 1178,685 1045,1008 978,975" fill="#96805e" stroke="#665"/>
<path d="M1165 630L1015 990" stroke="#544" fill="none"/>
<path class="l" d="M573 815L680 825C800 835 960 800 1025 730"/>
<polygon class="blk" points="568,816 678,805 680,847"/>
<g stroke="#5a3020" fill="none"><path d="M772 920V865M745 890H800M772 900L750 870M772 900L795 870M827 920V865M800 890H855M827 900L808 870M827 900L848 870M887 920V865M860 890H915M887 900L868 870M887 900L905 870"/></g>
<rect x="767" y="924" width="128" height="14" fill="#111"/>
<polygon points="730,215 760,215 760,460 772,460 778,710 733,755 733,945 685,945 685,740 730,690" fill="#ddd" stroke="#aaa"/>
<rect class="w" x="685" y="945" width="290" height="15"/>
<polygon points="760,385 890,382 908,382 908,415 890,415 778,485" fill="url(#hop2)"/>
<polygon points="778,595 890,625 912,625 912,648 890,648 778,690" fill="url(#hop2)"/>
<rect x="912" y="180" width="23" height="510" fill="#c0a060" stroke="#a08848"/>
<polygon points="902,165 935,133 940,133 940,180 905,180" fill="#c0a060"/><polygon points="902,685 945,688 945,707 915,705" fill="#c0a060"/>
<rect x="935" y="190" width="178" height="18" fill="#c0a060"/>
<polygon points="1040,10 1060,10 1153,220 1120,220" fill="#c0a060"/>
<rect class="w" x="760" y="226" width="535" height="27"/><path class="l" d="M1295 226L1318 232 1285 240 1315 252"/>
<rect class="w" x="778" y="497" width="642" height="20"/><rect class="w" x="1010" y="478" width="168" height="20"/>
<rect class="w" x="1178" y="45" width="27" height="450"/>
<path class="l" d="M975 0V500M995 0V190M1435 0V930M1458 90V790"/>
<polygon points="1222,253 1315,253 1345,290 1345,340 1290,350 1225,350" fill="#6a6a6a"/>
<path d="M1285 48L1385 340" stroke="#959578" stroke-width="28"/><path d="M1320 48L1415 325" stroke="#999" stroke-width="14"/><circle cx="1383" cy="347" r="16" fill="#959568"/>
<polygon points="1395,325 1435,315 1435,365 1410,383" fill="#999" stroke="#666"/>
<polygon points="1178,480 1280,480 1275,545 1178,545" fill="#965038"/>
<polygon points="1243,378 1290,350 1355,517 1340,517 1280,517 1280,480" fill="url(#chute)"/>
<polygon points="1258,545 1355,520 1292,705 1265,685" fill="url(#chute)"/>
<polygon points="1130,830 1258,888 1258,932 1178,932 1178,945 1150,965 1080,935" fill="url(#hop2)"/>
<path class="l" d="M1095 950L1155 830M1110 957L1170 825M1125 965L1178 870M1178 520V930"/>
<rect class="w" x="1150" y="930" width="285" height="18"/>
<rect class="w" x="1270" y="715" width="168" height="40"/><path class="l" d="M1270 715L1250 740 1280 745 1270 760"/>
</g>

<!-- BUILDING LOWER (z3 coords) -->
<g transform="translate(0,1800) scale(.7576,.606)">
<rect class="w" x="80" y="355" width="288" height="13"/>
<path d="M575 390H607L610 407 707 385 705 365H807V480H752V535H757V480H715L640 427 607 490 575 525Z" fill="#707070"/>
<path d="M745 480H758V535H750Z" fill="#707070"/>
<path class="l" d="M603 370V850M612 370V555H1003M808 365V555M818 365V555M840 365V555M850 365V555"/>
<path class="l" d="M760 632H898"/><polygon class="blk" points="762,630 810,622 806,648"/>
<rect class="w" x="843" y="348" width="160" height="12"/>
<rect x="880" y="360" width="48" height="58" fill="url(#pur)"/>
<rect x="880" y="423" width="48" height="60" fill="url(#pur)"/><path class="l" d="M880 423L928 482M928 423L880 482"/>
<rect x="880" y="485" width="48" height="55" fill="#6a50a8"/>
<rect x="940" y="368" width="47" height="11" fill="#777"/><rect x="940" y="400" width="47" height="11" fill="#777"/><rect x="987" y="355" width="16" height="66" fill="#777"/>
<path class="l" d="M940 365L930 390 945 395 935 405"/>
<rect x="928" y="503" width="8" height="38" fill="#666"/><rect x="936" y="495" width="9" height="50" fill="#777"/>
<path d="M945 540V490Q945 465 975 460H998V540Z" fill="#6a50a8"/>
<path class="l" d="M970 462V540M945 487H1003M1003 355V1560M1012 360V555"/>
<path class="l" d="M1020 795L885 1040M1036 795L882 1060 880 1040"/>
<!-- receiving -->
<path class="l" d="M642 863V1445M700 855L675 1130 695 1430M695 855L670 1130 690 1430M690 855L685 1130"/>
<path class="l" d="M745 855L700 865 745 950 680 1042 743 1142 680 1235 743 1342 695 1430M680 1045H743M676 1140H743M680 1240H743M690 1342H743M743 855V1430M690 1410H1003M745 1430H900"/>
<rect class="w" x="642" y="1432" width="361" height="11"/>
<rect class="w" x="898" y="1432" width="20" height="128"/>
<path class="l" d="M865 870V1035H872V870ZM878 870V1240M882 1040V1432M893 1040V1430M905 1245V1405M918 1250V1405M890 1045H1003M895 1045H1003M903 1065H1003M890 1232H1003M895 1245H1003M1003 1060V1232M885 1300H895M885 1345H895M885 1400H895M915 1320H925V1340H915ZM925 1332H938"/>
</g>

<!-- BUNKER BUILDING / CRANE -->
<g transform="translate(180,2030) scale(.3333)">
<path class="l" d="M61 0V850M74 0V850M175 0L128 415 175 850M185 0L140 415 187 850M195 0L150 415 197 850M277 0V850"/>
<path class="l" d="M190 60L277 155 172 240 277 325 152 412 277 505 165 585 277 680 188 765 277 850M183 155H277M160 328H277M158 505H277M180 680H277"/>
<rect class="w" x="61" y="850" width="1200" height="27"/>
<path class="l" d="M283 0V14H510M510 0V50H763M510 33H763M278 317H437M278 337H437M278 532H437M278 555H437M278 820H505M415 15V787H445M432 15V787M415 60H445M415 165H445M415 268H445M415 370H445M415 472H445M415 578H445M505 780V850M505 780H960M505 795H960M505 840H960M830 0V850M916 877V960"/>
<rect x="515" y="317" width="315" height="26" fill="#eee" stroke="#777" vector-effect="non-scaling-stroke"/><rect x="515" y="532" width="315" height="23" fill="#eee" stroke="#777" vector-effect="non-scaling-stroke"/>
<rect x="435" y="65" width="7" height="510" fill="#a8a4c4"/>
<rect x="403" y="633" width="30" height="100" fill="none" stroke="#999" vector-effect="non-scaling-stroke"/><circle cx="416" cy="660" r="13" fill="none" stroke="#999"/><circle cx="416" cy="695" r="13" fill="none" stroke="#999"/>
<path d="M450 15H490L505 65V740L490 790H445L450 300Z" fill="url(#crane)"/>
<path class="l" d="M505 680H520M515 655H527V705H515ZM527 658L600 615 628 622 650 675 625 722 600 745 527 700M575 680H527M580 650V710M600 610L610 605 670 594M600 745L610 750 672 762M610 640L620 650M610 710L622 700"/>
<polygon class="blk" points="625,187 737,187 628,228 635,210"/>
<path class="l" d="M635 210Q575 280 590 330C610 385 720 425 820 425M763 262L830 327"/>
</g>

<!-- BUNKER -->
<g transform="translate(700,2090) scale(.3333)">
<rect class="w" x="176" y="137" width="540" height="11"/>
<rect class="w" x="255" y="568" width="457" height="12"/>
<path class="l" d="M0 142H176M176 0V840M0 568H218L108 710H0"/>
<rect x="748" y="33" width="12" height="742" fill="#ccc" stroke="#888" vector-effect="non-scaling-stroke"/>
<path class="l" d="M688 135V100L745 88M688 585V742H748M688 622L745 635"/>
<path d="M255 570L35 840M245 570L20 840" stroke="#777" fill="none" stroke-width="1" vector-effect="non-scaling-stroke"/>
<path d="M655 182L705 192Q725 350 705 525L655 535Z" fill="#f4f4f4" stroke="#888"/>
<path d="M662 195V520M680 198V510M692 200V505" stroke="#222" stroke-width="5" stroke-dasharray="5 9" fill="none"/>
<path d="M183 155L630 150 638 230 635 300 640 400 635 560 318 558 330 490 380 420 360 395 200 345 128 335 150 305 175 305 185 285 160 265Z" fill="#a8a6a4" stroke="#777"/>
<path d="M365 262Q440 190 520 180Q575 190 570 225Q530 265 440 275Q385 278 365 262Z" fill="url(#gr)"/>
<path d="M222 300Q240 265 300 268Q345 285 385 340Q370 355 310 350Q240 340 222 300Z" fill="url(#gg)"/>
<g fill="#eebba8"><path d="M128 335Q175 305 190 280Q210 255 243 258Q205 270 200 310Q215 345 175 345Q140 350 128 335Z"/><path d="M370 232Q405 215 420 188Q410 225 370 232Z"/><path d="M378 430Q395 420 395 450 420 480 465 495 400 490 378 465Z"/><path d="M320 365Q345 385 375 412 345 410 320 365Z"/><path d="M480 470Q510 510 535 540 505 530 480 470Z"/><path d="M450 280H515L510 290Q480 288 450 280Z"/><path d="M465 335Q510 340 540 360 500 350 465 335Z"/></g>
<path d="M225 300Q240 270 350 235M330 375Q370 395 405 415 440 440 445 465 510 465 560 450 600 425 640 395M360 365L405 410M480 385Q500 395 510 410M330 415H400M520 270Q560 295 575 262M590 320Q540 345 580 368M580 330L635 312M445 465L490 525M545 460L570 490" stroke="#8a7a70" stroke-width="3" fill="none"/>
</g>

<!-- TRUCK -->
<g transform="translate(480,2330) scale(.3333)">
<rect x="372" y="322" width="125" height="230" fill="#f58300"/>
<g fill="#ffd8b0"><rect x="372" y="318" width="110" height="8"/><rect x="372" y="370" width="120" height="8"/><rect x="372" y="418" width="120" height="8"/><rect x="372" y="462" width="120" height="8"/><rect x="372" y="505" width="120" height="8"/><rect x="372" y="545" width="120" height="8"/></g>
<g stroke="#a05a00" stroke-width="2"><path d="M395 325V550M412 325V550M445 325V550M465 325V550"/></g><rect x="415" y="325" width="13" height="225" fill="#ccc"/>
<g transform="rotate(33 368 235)"><rect x="320" y="170" width="96" height="130" fill="#f58300" stroke="#a05a00"/><path d="M320 200H416M320 230H416M320 260H416M345 170V300M390 170V300" stroke="#a05a00" stroke-width="3"/><rect x="360" y="170" width="12" height="130" fill="#f4a878"/></g>
<path d="M330 205L375 170" stroke="#333" stroke-width="7" fill="none"/><path d="M385 245L430 290" stroke="#48a8c8" stroke-width="6"/><path d="M430 290L460 330" stroke="#555" stroke-width="3"/>
<path d="M478 312H523L552 340V440L512 465H490L478 420Z" fill="#2a2622"/>
<rect x="545" y="342" width="16" height="333" fill="#211e1a"/>
<circle cx="520" cy="358" r="29" fill="#1f1c18"/><circle cx="520" cy="358" r="18" fill="#999"/><circle cx="520" cy="358" r="9" fill="#333"/>
<circle cx="520" cy="423" r="29" fill="#1f1c18"/><circle cx="520" cy="423" r="18" fill="#999"/><circle cx="520" cy="423" r="9" fill="#333"/>
<rect x="500" y="475" width="24" height="68" rx="5" fill="#ddd" stroke="#777"/>
<path d="M390 570H480" stroke="#8a9aa8" stroke-width="10"/><circle cx="395" cy="570" r="8" fill="#7a8a98"/>
<polygon points="405,580 480,580 505,640 505,670 465,670 405,645" fill="#e83e00" stroke="#a03000"/>
<rect x="420" y="600" width="28" height="32" fill="#bbb" stroke="#555"/><rect x="480" y="660" width="10" height="10" fill="#dd0"/><rect x="500" y="640" width="13" height="38" fill="#222"/>
<path d="M475 555H520V620H490Z" fill="#2a2622"/>
<circle cx="518" cy="596" r="32" fill="#1f1c18"/><circle cx="518" cy="596" r="19" fill="#999"/><circle cx="518" cy="596" r="9" fill="#333"/>
</g>

<!-- column rules -->
<g stroke="#9a9a9a" stroke-width="1.2"><path d="M846 8H1186M846 418H1186M846 852H1186M846 1179H1186M846 1741H1186M846 2025H1186M992 2335H1186M846 2747H1186"/></g>

<!-- labels -->
<g class="h">
<text transform="translate(891,294) rotate(-90)" textLength="165">Отделение</text>
<text transform="translate(921,304) rotate(-90)" textLength="184">энергоблока</text>
<text transform="translate(858,839) rotate(-90)" textLength="408">Отделение по переработке</text>
<text transform="translate(888,778) rotate(-90)" textLength="284">золовых отходов в</text>
<text transform="translate(923,749) rotate(-90)" textLength="229">строительные</text>
<text transform="translate(955,720) rotate(-90)" textLength="172">материалы</text>
<text transform="translate(899,1087) rotate(-90)" textLength="144">Шлаковое</text>
<text transform="translate(931,1095) rotate(-90)" textLength="162">отделение</text>
<text transform="translate(916,1640) rotate(-90)" textLength="361">Отделение газоочистки</text>
<text transform="translate(913,1990) rotate(-90)" textLength="215">Котлоагрегат</text>
<text transform="translate(991,2256) rotate(-90)" textLength="154">Приемный</text>
<text transform="translate(1023,2263) rotate(-90)" textLength="168">бункер ТБО</text>
<text transform="translate(913,2700) rotate(-90)" textLength="314">Приемное отделение</text>
</g>
<g class="b">
<text transform="translate(1007,386) rotate(-90)" textLength="349" style="word-spacing:30px">Турбогенераторы для</text>
<text transform="translate(1035,387) rotate(-90)" textLength="350">выработки электроэнергии</text>
<text transform="translate(1007,841) rotate(-90)" textLength="411" style="word-spacing:22px">Оборудование для переработки</text>
<text transform="translate(1034,841) rotate(-90)" textLength="411" style="word-spacing:26px">золовых отходов и изготовл-</text>
<text transform="translate(1061,841) rotate(-90)" textLength="411">ения строительных материалов</text>
<text transform="translate(987,1170) rotate(-90)" textLength="309" style="word-spacing:25px">Оборудование системы</text>
<text transform="translate(1015,1170) rotate(-90)" textLength="309" style="word-spacing:25px">раздельного сбора и</text>
<text transform="translate(1043,1170) rotate(-90)" textLength="309">транспортировки шлака</text>
<text transform="translate(1069,1170) rotate(-90)" textLength="194">и летучей золы</text>
<text transform="translate(986,1724) rotate(-90)" textLength="528">Высокая степень очистки дымовых газов</text>
<text transform="translate(1013,1724) rotate(-90)" textLength="528" style="word-spacing:8px">от SO<tspan dy="3" font-size="14">2</tspan><tspan dy="-3">, HCl, HF, CO, NO</tspan><tspan dy="3" font-size="14">x</tspan><tspan dy="-3">, летучей золы,</tspan></text>
<text transform="translate(1040,1724) rotate(-90)" textLength="528" style="word-spacing:25px">диоксинов и фуранов обеспечивается</text>
<text transform="translate(1067,1724) rotate(-90)" textLength="528" style="word-spacing:25px">распылительным абсорбером подачей</text>
<text transform="translate(1094,1724) rotate(-90)" textLength="528">известкового молока и активированного</text>
<text transform="translate(1121,1724) rotate(-90)" textLength="528" style="word-spacing:25px">угля, рукавным фильтром и системой</text>
<text transform="translate(1149,1724) rotate(-90)" textLength="528">очистки газов от окислов фурана (DeNOx)</text>
<text transform="translate(987,2017) rotate(-90)" textLength="270">Высота топки увели-</text>
<text transform="translate(1014,2017) rotate(-90)" textLength="270">чена для обеспечения</text>
<text transform="translate(1041,2017) rotate(-90)" textLength="270" style="word-spacing:20px">времени пребывания</text>
<text transform="translate(1068,2017) rotate(-90)" textLength="270">дымовых газов более</text>
<text transform="translate(1095,2017) rotate(-90)" textLength="202">2 сек. при t &gt; 850°С</text>
<text transform="translate(1077,2281) rotate(-90)" textLength="205">Обеспечивает 3<tspan dy="-7" font-size="14">х</tspan></text>
<text transform="translate(1106,2283) rotate(-90)" textLength="207" style="word-spacing:26px">дневный запас</text>
<text transform="translate(1134,2283) rotate(-90)" textLength="170">хранения ТБО</text>
<text transform="translate(987,2710) rotate(-90)" textLength="332" style="word-spacing:20px">Позволяет принимать</text>
<text transform="translate(1014,2710) rotate(-90)" textLength="332" style="word-spacing:22px">мусоровозы с грузо-</text>
<text transform="translate(1041,2710) rotate(-90)" textLength="332">подъемностью до 11 тонн</text>
</g>
</svg>
</body></html>
